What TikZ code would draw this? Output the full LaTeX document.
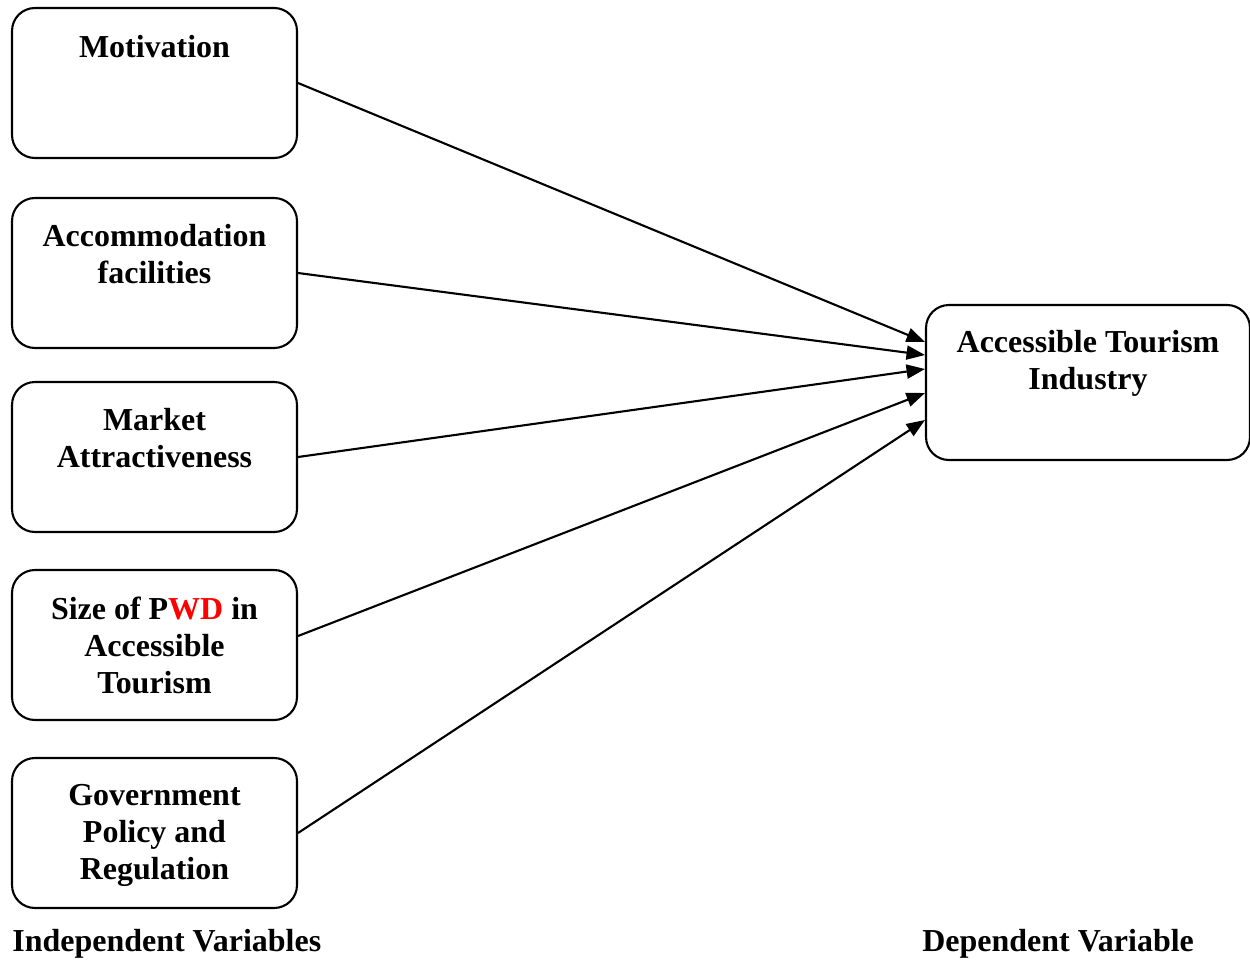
\documentclass[tikz,border=0pt]{standalone}
\usepackage{fontspec}
\setmainfont{Liberation Serif}
\usetikzlibrary{positioning,arrows.meta}

\begin{document}
\begin{tikzpicture}[x=0.02cm,y=-0.02cm,
    var/.style={draw,line width=1.2pt,rounded corners=13pt,minimum width=5.7cm,minimum height=3cm},
    lbl/.style={font=\fontsize{18.2}{21}\selectfont\bfseries,align=center,inner sep=0pt},
    link/.style={line width=1.2pt,-{Triangle[length=10.5pt,width=8pt]}}]
        \useasboundingbox (0,0) rectangle (1250,960);
        % independent variables
        \node[var] (mot) at (154.5,83) {};
        \node[var] (acc) at (154.5,273) {};
        \node[var] (mkt) at (154.5,457) {};
        \node[var] (pwd) at (154.5,645) {};
        \node[var] (gov) at (154.5,833) {};
        \node[lbl,anchor=north,below=0.57cm of mot.north] (motT) {Motivation};
        \node[lbl,anchor=north,below=0.55cm of acc.north] (accT) {Accommodation\\facilities};
        \node[lbl,anchor=north,below=0.55cm of mkt.north] (mktT) {Market\\Attractiveness};
        \node[lbl,anchor=north,below=0.55cm of pwd.north] (pwdT) {Size of P{\color{red}WD} in\\Accessible\\Tourism};
        \node[lbl,anchor=north,below=0.55cm of gov.north] (govT) {Government\\Policy and\\Regulation};
        % dependent variable
        \node[var,minimum width=6.48cm,minimum height=3.1cm] (ati) at (1088,382.5) {};
        \node[lbl,anchor=north,below=0.53cm of ati.north] (atiT) {Accessible Tourism\\Industry};
        \draw[link] (mot.east) -- ([yshift=0.81cm]ati.west);
        \draw[link] (acc.east) -- ([yshift=0.55cm]ati.west);
        \draw[link] (mkt.east) -- ([yshift=0.27cm]ati.west);
        \draw[link] ([yshift=0.18cm]pwd.east) -- ([yshift=-0.21cm]ati.west);
        \draw[link] (gov.east) -- ([yshift=-0.75cm]ati.west);
        \node[lbl,anchor=west] (indep) at (12,944) {Independent Variables};
        \node[lbl,anchor=west] (dep) at (922,944) {Dependent Variable};
    \end{tikzpicture}
\end{document}
